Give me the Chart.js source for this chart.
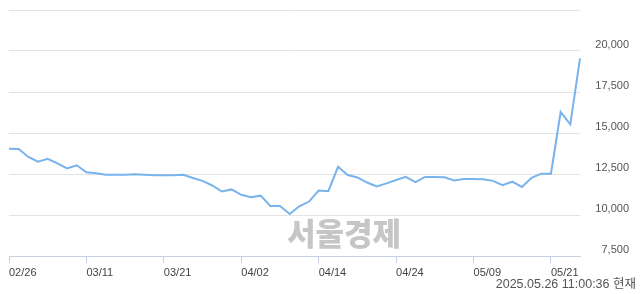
<!DOCTYPE html>
<html>
<head>
<meta charset="utf-8">
<script src="https://cdn.jsdelivr.net/npm/chart.js@4"></script>
<style>
html,body{margin:0;padding:0;background:#fff;}
#wrap{position:relative;width:640px;height:294px;}
#stamp{position:absolute;right:4px;top:276px;font-family:"Liberation Sans","Noto Sans CJK KR",sans-serif;font-size:12.5px;color:#555;line-height:16px;white-space:nowrap;}
#mark{position:absolute;left:287px;top:211px;font-family:"Noto Sans CJK KR",sans-serif;font-weight:900;font-size:31px;color:#c6c6c6;line-height:42px;letter-spacing:0px;white-space:nowrap;}
</style>
</head>
<body>
<div id="wrap">
<div id="mark">서울경제</div>
<canvas id="c" width="640" height="294"></canvas>
<div id="stamp">2025.05.26 11:00:36 현재</div>
</div>
<script>
const dates = ["02/26","02/27","02/28","03/04","03/05","03/06","03/07","03/10","03/11","03/12",
"03/13","03/14","03/17","03/18","03/19","03/20","03/21","03/24","03/25","03/26",
"03/27","03/28","03/31","04/01","04/02","04/03","04/04","04/07","04/08","04/09",
"04/10","04/11","04/14","04/15","04/16","04/17","04/18","04/21","04/22","04/23",
"04/24","04/25","04/28","04/29","04/30","05/02","05/07","05/08","05/09","05/12",
"05/13","05/14","05/15","05/16","05/19","05/20","05/21","05/22","05/23","05/26"];
const prices = [14040,14020,13540,13250,13430,13150,12840,13030,12600,12540,
12460,12460,12460,12480,12450,12430,12420,12430,12450,12260,
12080,11800,11430,11560,11230,11090,11180,10550,10550,10060,
10530,10820,11490,11450,12940,12440,12290,11980,11740,11930,
12130,12330,12010,12320,12320,12300,12110,12200,12200,12180,
12080,11820,12030,11710,12270,12520,12520,16280,15530,19550];
const yTicks = [7500,10000,12500,15000,17500,20000,22500];
const labelEvery = 8;

const axisFont = {family:"'Liberation Sans', Arial, sans-serif", size:11};
new Chart(document.getElementById('c'), {
  type:'line',
  data:{labels:dates, datasets:[{data:prices, borderColor:'#78b3ec', borderWidth:2, pointRadius:0, tension:0, fill:false}]},
  options:{
    responsive:false, animation:false,
    layout:{padding:{left:9, top:10, right:11, bottom:0}},
    plugins:{legend:{display:false}, tooltip:{enabled:false}},
    scales:{
      x:{
        type:'category', offset:false,
        grid:{drawOnChartArea:false, drawTicks:true, tickLength:7,
              tickColor:(ctx)=> (ctx.index % labelEvery === 0 ? '#c8d0e8' : 'rgba(0,0,0,0)'), lineWidth:1},
        border:{display:true, color:'#c8d0e8', width:1},
        ticks:{autoSkip:false, maxRotation:0, minRotation:0, align:'start', padding:3, color:'#444',
               font:axisFont,
               callback:function(v, i){ return i % labelEvery === 0 ? dates[i] : ''; }},
        afterFit:(s)=>{ s.height = 38; }
      },
      y:{
        position:'right', min:yTicks[0], max:yTicks[yTicks.length-1],
        afterBuildTicks:(s)=>{ s.ticks = yTicks.map(v=>({value:v})); },
        grid:{color:'#e3e3e3', drawTicks:false, lineWidth:1},
        border:{display:false},
        ticks:{color:'#555', font:axisFont, padding:1, crossAlign:'far', labelOffset:-6,
               callback:(v)=> v === yTicks[yTicks.length-1] ? '' : Number(v).toLocaleString('en-US')},
        afterFit:(s)=>{ s.width = 49; }
      }
    }
  }
});
</script>
</body>
</html>
